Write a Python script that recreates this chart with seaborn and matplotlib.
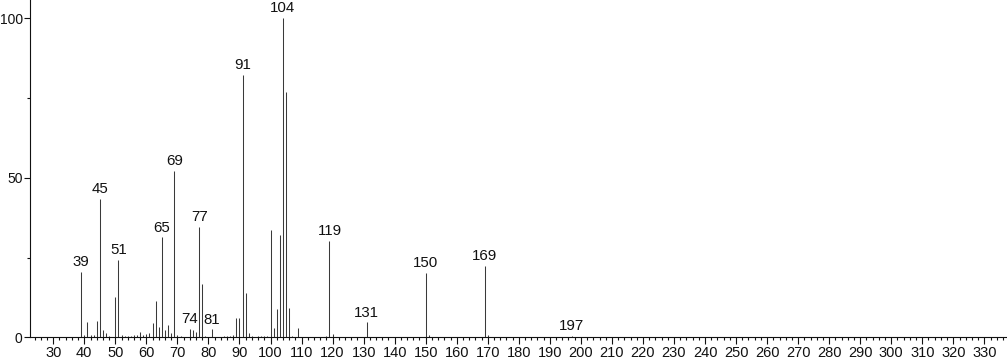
import matplotlib
matplotlib.use("Agg")
import matplotlib.pyplot as plt
from matplotlib.ticker import MultipleLocator
import seaborn as sns
import pandas as pd

# m/z values and relative intensities
mz = [39, 40, 41, 42, 43, 44, 45, 46, 47, 48, 50, 51, 52, 53, 54, 55, 56, 57, 58,
      59, 60, 61, 62, 63, 64, 65, 66, 67, 68, 69, 70, 71, 74, 75, 76, 77, 78, 79,
      81, 85, 86, 87, 88, 89, 90, 91, 92, 93, 94, 96, 97, 98, 99, 100, 101, 102,
      103, 104, 105, 106, 107, 109, 118, 119, 120, 131, 150, 151, 169, 170, 197]
intensity = [20.4, 0.8, 4.7, 0.6, 0.6, 5.0, 43.4, 2.3, 1.3, 0.4, 12.5, 24.2, 0.8,
             0.5, 0.3, 0.5, 0.6, 0.8, 1.6, 0.6, 1.0, 1.3, 4.4, 11.5, 3.3, 31.3,
             2.2, 3.8, 1.5, 52.2, 0.6, 0.3, 2.6, 2.2, 1.7, 34.5, 16.7, 0.4, 2.5,
             0.3, 0.4, 0.5, 0.8, 6.1, 5.9, 82.2, 14.0, 1.5, 0.3, 0.4, 0.5, 0.5,
             0.3, 33.6, 3.0, 8.8, 32.1, 100.0, 76.8, 9.3, 0.4, 2.8, 0.5, 30.1,
             1.1, 4.7, 20.2, 0.6, 22.4, 0.6, 0.5]
labeled = [39, 45, 51, 65, 69, 74, 77, 81, 91, 104, 119, 131, 150, 169, 197]
x_ticks = list(range(30, 331, 10))
y_ticks = [0, 50, 100]

df = pd.DataFrame({"mz": mz, "intensity": intensity})

sns.set_theme(style="ticks")
plt.rcParams["font.family"] = ["Liberation Sans", "DejaVu Sans"]

fig = plt.figure(figsize=(10.07, 3.62), dpi=100)
ax = fig.add_axes([30 / 1007, 24.7 / 362, 977 / 1007, 337.3 / 362])

line_color = "#3a3a3a"
sns.barplot(data=df, x="mz", y="intensity", native_scale=True, width=1e-6,
            color=line_color, saturation=1, edgecolor=line_color, linewidth=0.75,
            ax=ax, errorbar=None)
for p in ax.patches:
    p.set_snap(True)

for m, v in zip(mz, intensity):
    if m in labeled:
        ax.annotate(str(m), xy=(m, v), xytext=(0, 2), textcoords="offset points",
                    ha="center", va="bottom", fontsize=10.8, color="#111111")

ax.set_xlim(22.5, 337.3)
ax.set_ylim(0, 105.7)
ax.set_xticks(x_ticks)
ax.set_xticklabels([str(t) for t in x_ticks])
ax.xaxis.set_minor_locator(MultipleLocator(2))
ax.set_yticks(y_ticks)
ax.set_yticklabels([str(t) for t in y_ticks])
ax.yaxis.set_minor_locator(MultipleLocator(25))

ax.tick_params(axis="x", which="major", length=5, width=0.8, pad=1.5, labelsize=10.5, colors="#111111")
ax.tick_params(axis="x", which="minor", length=2.5, width=0.8, colors="#111111")
ax.tick_params(axis="y", which="major", length=4.3, width=0.8, pad=1.0, labelsize=10, colors="#111111")
ax.tick_params(axis="y", which="minor", length=2.2, width=0.8, colors="#111111")

ax.set_xlabel("")
ax.set_ylabel("")
for s in ["top", "right"]:
    ax.spines[s].set_visible(False)
for s in ["left", "bottom"]:
    ax.spines[s].set_linewidth(0.8)
    ax.spines[s].set_color("#111111")

fig.savefig("out.png", dpi=100)
